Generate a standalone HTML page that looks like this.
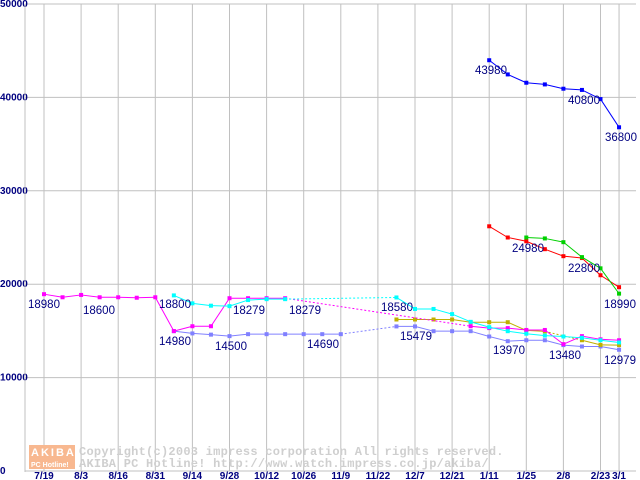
<!DOCTYPE html>
<html><head><meta charset="utf-8"><style>
html,body{margin:0;padding:0;background:#fff;}
svg{display:block;}
.tk{font-family:"Liberation Sans",sans-serif;font-size:10px;font-weight:bold;fill:#000080;}
.lb{font-family:"Liberation Sans",sans-serif;font-size:11.5px;fill:#000080;}
.wm{font-family:"Liberation Mono",monospace;font-size:12px;font-weight:bold;fill:#cfcfcf;letter-spacing:0.25px;}
</style></head><body>
<svg id="chart" width="640" height="480" viewBox="0 0 640 480" xmlns="http://www.w3.org/2000/svg">
<g id="grid"></g>
<g id="wm">
<rect x="29" y="445" width="46" height="24" fill="#f8b890"/>
<text x="31" y="456" font-family="Liberation Sans,sans-serif" font-size="11" font-weight="bold" fill="#fff" letter-spacing="2">AKIBA</text>
<text x="31" y="467" font-family="Liberation Sans,sans-serif" font-size="7" font-weight="bold" fill="#fff">PC Hotline!</text>
<text class="wm" x="79" y="455">Copyright(c)2003 impress corporation All rights reserved.</text>
<text class="wm" x="79" y="467">AKIBA PC Hotline!  http://www.watch.impress.co.jp/akiba/</text>
</g>
<g id="series"></g>
<g id="labels"></g>
</svg>
<script>
const xLabels=["7/19","8/3","8/16","8/31","9/14","9/28","10/12","10/26","11/9","11/22","12/7","12/21","1/11","1/25","2/8","2/23","3/1"];
const yTicks=[0,10000,20000,30000,40000,50000];
const N=32;
const magenta=[18930,18600,18850,18600,18600,18550,18600,14980,15500,15500,18500,18500,18500,18500,null,null,null,null,null,null,null,null,null,15500,15300,15300,15100,15100,13580,14440,14100,14000];
const cyan=[null,null,null,null,null,null,null,18800,17950,17700,17650,18300,18400,18400,null,null,null,null,null,18580,17350,17350,16800,15970,15400,14970,14700,14500,14400,14260,14000,13760];
const lavender=[null,null,null,null,null,null,null,14970,14730,14600,14440,14650,14650,14650,14650,14650,14650,null,null,15480,15480,14970,14970,14970,14400,13900,14000,14000,13480,13330,13330,12979];
const olive=[null,null,null,null,null,null,null,null,null,null,null,null,null,null,null,null,null,null,null,16220,16220,16220,16220,15930,15930,15930,15050,14950,null,14000,13500,13480];
const red=[null,null,null,null,null,null,null,null,null,null,null,null,null,null,null,null,null,null,null,null,null,null,null,null,26200,25000,24600,23750,23000,22800,20960,19680];
const green=[null,null,null,null,null,null,null,null,null,null,null,null,null,null,null,null,null,null,null,null,null,null,null,null,null,null,25000,24900,24500,22900,21700,18990];
const blue=[null,null,null,null,null,null,null,null,null,null,null,null,null,null,null,null,null,null,null,null,null,null,null,null,43980,42460,41570,41390,40930,40800,39820,36800];
const seriesList=[["lavender",lavender,"#8080ff"],["olive",olive,"#c0b000"],["magenta",magenta,"#ff00ff"],["cyan",cyan,"#00ffff"],["red",red,"#ff0000"],["green",green,"#00d000"],["blue",blue,"#0000ff"]];
const valueLabels=[["18980",28,308],["18600",83,314],["18800",159,308],["14980",159,345],["14500",215,350],["18279",233,314],["18279",289,314],["14690",307,348],["18580",381,311],["15479",400,340],["13970",493,354],["13480",549,359],["12979",604,364],["18990",604,308],["22800",568,272],["24980",512,252],["43980",475,74],["40800",568,104],["36800",605,141]];
const NS="http://www.w3.org/2000/svg";
const xs=i=>44+i*18.55;
const ys=v=>471-v*467/50000;
function mk(tag,attrs,parent){const e=document.createElementNS(NS,tag);for(const k in attrs)e.setAttribute(k,attrs[k]);parent.appendChild(e);return e;}
const grid=document.getElementById('grid');
yTicks.forEach(v=>{
  const l=mk('line',{x1:25,x2:636,y1:ys(v),y2:ys(v),stroke:'#c0c0c0','stroke-width':1},grid);
  
  
  const t=mk('text',{x:0,y:ys(v)+3,class:'tk'},grid);t.textContent=String(v);
  
  
});
const bl=mk('line',{x1:25,x2:25,y1:ys(50000),y2:472,stroke:'#c0c0c0'},grid);


xLabels.forEach((s,k)=>{
  const i=k<16?k*2:31;
  const l=mk('line',{x1:xs(i),x2:xs(i),y1:ys(50000),y2:471,stroke:'#c0c0c0'},grid);
  
  
  const t=mk('text',{x:xs(i),y:479,class:'tk','text-anchor':'middle'},grid);t.textContent=s;
  
  
});
const sg=document.getElementById('series');
seriesList.forEach(([name,arr,col])=>{
  const g=mk('g',{},sg);
  
  
  let prev=-1;
  for(let i=0;i<N;i++){
    if(arr[i]==null)continue;
    if(prev>=0){
      const ln=mk('line',{x1:xs(prev),y1:ys(arr[prev]),x2:xs(i),y2:ys(arr[i]),stroke:col,'stroke-width':1},g);
      if(i-prev>1)ln.setAttribute('stroke-dasharray','2,2');
      
      
    }
    prev=i;
  }
  for(let i=0;i<N;i++){
    if(arr[i]==null)continue;
    const r=mk('rect',{x:xs(i)-2,y:ys(arr[i])-2,width:4,height:4,fill:col},g);
    
    
  }
});
const lg=document.getElementById('labels');
valueLabels.forEach(([s,x,y])=>{
  const t=mk('text',{x:x,y:y,class:'lb'},lg);t.textContent=s;
  
  
});
</script>
</body></html>
